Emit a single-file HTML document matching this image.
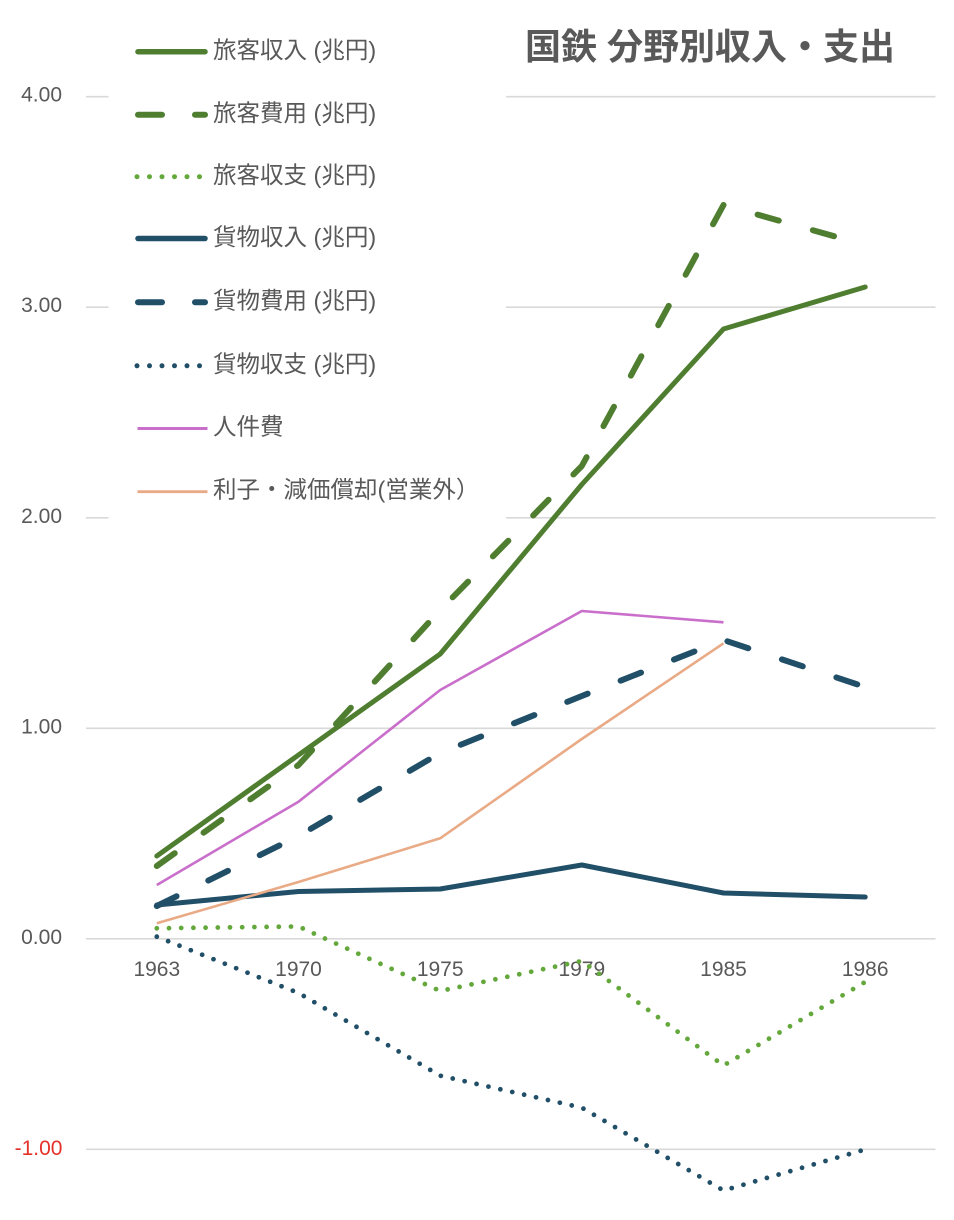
<!DOCTYPE html>
<html>
<head>
<meta charset="utf-8">
<style>
html,body{margin:0;padding:0;background:#fff;}
svg{display:block;}
.ax{font-family:"Liberation Sans","Noto Sans CJK JP",sans-serif;font-size:21px;fill:#595959;}
.lg{font-family:"Liberation Sans","Noto Sans CJK JP",sans-serif;font-size:23.5px;fill:#595959;}
.tt{font-family:"Liberation Sans","Noto Sans CJK JP",sans-serif;font-size:36px;font-weight:bold;fill:#595959;}
</style>
</head>
<body>
<svg width="954" height="1220" viewBox="0 0 954 1220" xmlns="http://www.w3.org/2000/svg">
<rect x="0" y="0" width="954" height="1220" fill="#fff"/>
<!-- gridlines -->
<g stroke="#d9d9d9" stroke-width="1.6">
<line x1="86" y1="96.7" x2="935.5" y2="96.7"/>
<line x1="86" y1="307.2" x2="935.5" y2="307.2"/>
<line x1="86" y1="517.8" x2="935.5" y2="517.8"/>
<line x1="86" y1="728.3" x2="935.5" y2="728.3"/>
<line x1="86" y1="938.8" x2="935.5" y2="938.8"/>
<line x1="86" y1="1149.3" x2="935.5" y2="1149.3"/>
</g>
<!-- legend box -->
<rect x="108.5" y="0" width="397.5" height="530" fill="#fff"/>

<!-- y labels -->
<g class="ax" text-anchor="end">
<text x="62" y="101.7">4.00</text>
<text x="62" y="312.2">3.00</text>
<text x="62" y="522.8">2.00</text>
<text x="62" y="733.3">1.00</text>
<text x="62" y="943.8">0.00</text>
<text x="62.5" y="1154.8" style="fill:#e4322b">-1.00</text>
</g>
<!-- x labels -->
<g class="ax" text-anchor="middle">
<text x="156.8" y="976">1963</text>
<text x="298.5" y="976">1970</text>
<text x="440.2" y="976">1975</text>
<text x="581.8" y="976">1979</text>
<text x="723.5" y="976">1985</text>
<text x="865.2" y="976">1986</text>
</g>

<!-- series -->
<g fill="none" stroke-linejoin="round" stroke-linecap="round">
<path d="M156.8,856 L298.5,755 L440.2,654 L581.8,484.5 L723.5,329 L865.2,287" stroke="#4f7e30" stroke-width="5"/>
<path d="M156.8,866 L298.5,765 L440.2,610 L581.8,466 L723.5,205 L865.2,245" stroke="#4f7e30" stroke-width="6" stroke-dasharray="22 35.4"/>
<path d="M156.8,928.3 L298.5,926.5 L440.2,991 L581.8,961 L723.5,1065.5 L865.2,982" stroke="#64a83c" stroke-width="4.8" stroke-dasharray="0 12.2"/>
<path d="M156.8,905 L298.5,891.5 L440.2,889 L581.8,865 L723.5,893 L865.2,897" stroke="#214f68" stroke-width="5"/>
<path d="M156.8,906 L298.5,836 L440.2,753 L581.8,696 L723.5,640 L865.2,687" stroke="#214f68" stroke-width="6" stroke-dasharray="22 35.4"/>
<path d="M156.8,936.7 L298.5,993 L440.2,1075.7 L581.8,1107.7 L723.5,1190.5 L865.2,1149.5" stroke="#214f68" stroke-width="4.8" stroke-dasharray="0 12.2"/>
<path d="M156.8,885 L298.5,801.7 L440.2,690 L581.8,611 L723.5,622.3" stroke="#c96fcb" stroke-width="2.6" stroke-linecap="butt"/>
<path d="M156.8,923.3 L298.5,882 L440.2,838.3 L581.8,739 L723.5,643.3" stroke="#e9aa86" stroke-width="2.6" stroke-linecap="butt"/>
</g>

<!-- legend samples -->
<g fill="none" stroke-linecap="round">
<path d="M138,51.7 H205" stroke="#4f7e30" stroke-width="5.5"/>
<path d="M138,114.8 H205" stroke="#4f7e30" stroke-width="6" stroke-dasharray="24 33"/>
<path d="M137,176.7 H200" stroke="#64a83c" stroke-width="5" stroke-dasharray="0 12.5"/>
<path d="M138,238.5 H205" stroke="#214f68" stroke-width="5.5"/>
<path d="M138,302.3 H205" stroke="#214f68" stroke-width="6" stroke-dasharray="24 33"/>
<path d="M137,365.8 H200" stroke="#214f68" stroke-width="5" stroke-dasharray="0 12.5"/>
<path d="M137.5,428.5 H207.5" stroke="#c96fcb" stroke-width="3" stroke-linecap="butt"/>
<path d="M137.5,491.7 H207.5" stroke="#e9aa86" stroke-width="2.8" stroke-linecap="butt"/>
</g>
<g class="lg">
<text x="213" y="58">旅客収入 (兆円)</text>
<text x="213" y="121">旅客費用 (兆円)</text>
<text x="213" y="183">旅客収支 (兆円)</text>
<text x="213" y="245">貨物収入 (兆円)</text>
<text x="213" y="308.5">貨物費用 (兆円)</text>
<text x="213" y="372">貨物収支 (兆円)</text>
<text x="213" y="434.5">人件費</text>
<text x="213" y="497.5">利子・減価償却(営業外）</text>
</g>

<!-- title -->
<text class="tt" x="525" y="59">国鉄 分野別収入・支出</text>
</svg>
</body>
</html>
